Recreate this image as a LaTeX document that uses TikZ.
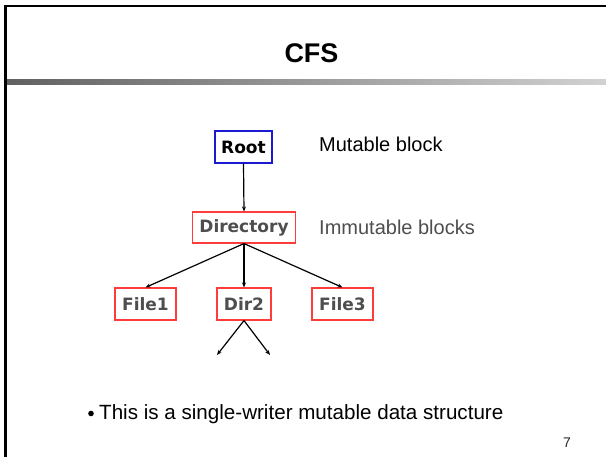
\documentclass[tikz,border=0pt]{standalone}
\usepackage{fontspec}
\setmainfont{Liberation Sans}
\newfontfamily\boxfont{DejaVu Sans}
\usetikzlibrary{arrows.meta}
\definecolor{blockred}{HTML}{FF3C3C}
\definecolor{rootblue}{HTML}{1A1AD0}
\definecolor{labelgray}{HTML}{4E4E4E}
\tikzset{
  blockbox/.style={draw=blockred, line width=1.1pt, inner sep=0pt, text=labelgray,
    font=\boxfont\bfseries\fontsize{17}{17}\selectfont},
  rootbox/.style={blockbox, draw=rootblue, text=black},
  link/.style={line width=1.2pt, -{Stealth[length=5pt,width=4pt]}},
  note/.style={anchor=base west, inner sep=0pt, font=\fontsize{20}{20}\selectfont}
}
\begin{document}
\begin{tikzpicture}[x=1pt,y=-1pt]
  \useasboundingbox (0,0) rectangle (606,457);
  \fill[white] (0,0) rectangle (606,457);
  % slide frame
  \draw[line width=2.5pt] (5.5,457) -- (5.5,6.2) -- (606,6.2);
  % title rule with grey gradient
  \shade[left color=black!62, right color=black!18] (7,80) rectangle (606,85);
  \node[anchor=base, inner sep=0pt, font=\bfseries\fontsize{27}{27}\selectfont] (title) at (311.5,63) {CFS};

  % blocks
  \node[rootbox, minimum width=57pt, minimum height=32pt] (root) at (243.5,147) {Root};
  \node[blockbox, minimum width=103pt, minimum height=31pt] (dir) at (244,227.5) {Directory};
  \node[blockbox, minimum width=61pt, minimum height=32pt] (file1) at (145.5,304) {File1};
  \node[blockbox, minimum width=54pt, minimum height=32pt] (dir2) at (244,304) {Dir2};
  \node[blockbox, minimum width=61pt, minimum height=32pt] (file3) at (342.5,304) {File3};
  \coordinate (subl) at (217,355);
  \coordinate (subr) at (270,355);

  % pointers
  \draw[link] (root.south) -- (dir.north);
  \draw[link] (dir.south) -- (file1.north);
  \draw[link] (dir.south) -- (dir2.north);
  \draw[link] (dir.south) -- (file3.north);
  \draw[link] (dir2.south) -- (subl);
  \draw[link] (dir2.south) -- (subr);

  % legend
  \node[note] (mut) at (319,152) {Mutable block};
  \node[note, text=labelgray] (immut) at (319,235) {Immutable blocks};

  % bullet and page number
  \fill (91,413.5) circle (2.8pt);
  \node[note, font=\fontsize{20.6}{20.6}\selectfont] (point) at (99,420) {This is a single-writer mutable data structure};
  \node[anchor=base east, inner sep=0pt, text=black!85, font=\fontsize{14}{14}\selectfont] (page) at (571,448) {7};
\end{tikzpicture}
\end{document}
